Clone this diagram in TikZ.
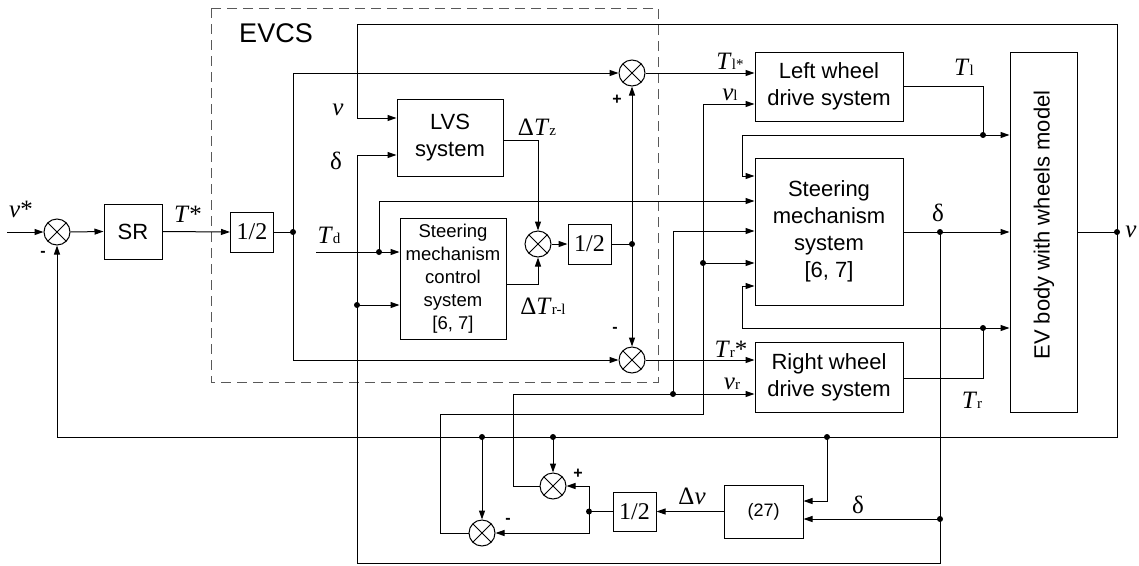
\documentclass[tikz,border=0pt]{standalone}
\usepackage{fontspec}
\setmainfont{Liberation Serif}
\setsansfont{Liberation Sans}
\usetikzlibrary{arrows.meta,calc}
\newcommand{\sbs}[1]{{\fontsize{15}{15}\selectfont #1}}
\tikzset{
  ln/.style={line width=1pt, draw=black},
  arr/.style={ln, -{Triangle[length=9pt,width=6pt]}},
  blk/.style={draw, line width=1pt, rectangle, inner sep=0pt, align=center, font=\sffamily\fontsize{22}{27}\selectfont},
  half/.style={draw, line width=1pt, rectangle, inner sep=0pt, minimum width=43pt, minimum height=40pt, font=\rmfamily\fontsize{24}{24}\selectfont},
  sumnode/.style={draw, circle, line width=1pt, minimum size=26pt, inner sep=0pt,
    path picture={\draw[line width=1pt] (path picture bounding box.north west) -- (path picture bounding box.south east)
      (path picture bounding box.north east) -- (path picture bounding box.south west);}},
  dot/.style={circle, fill, inner sep=0pt, minimum size=6pt},
  lab/.style={inner sep=0pt, font=\rmfamily\fontsize{25}{25}\selectfont},
  sg/.style={inner sep=0pt, font=\sffamily\bfseries\fontsize{16}{16}\selectfont},
}
\begin{document}
\begin{tikzpicture}[x=1pt,y=-1pt]
\useasboundingbox (0,0) rectangle (1139,565);
% EVCS dashed frame
\draw[line width=1pt, draw=black!65, dash pattern=on 10pt off 6pt] (211,8) rectangle (658,382);
\node[font=\sffamily\fontsize{27}{27}\selectfont, inner sep=0pt] (evcs) at (276,33) {EVCS};

% blocks
\node[sumnode] (s1) at (57,232) {};
\node[blk, minimum width=58pt, minimum height=55pt] (SR) at (133,231.5) {SR};
\node[half] (H1) at (252,232) {1/2};
\node[blk, minimum width=106pt, minimum height=77pt] (LVS) at (450,137.5) {LVS\\system};
\node[blk, font=\sffamily\fontsize{18.5}{23}\selectfont, minimum width=106pt, minimum height=121pt] (SMCS) at (453,278.5) {Steering\\mechanism\\control\\system\\{[6, 7]}};
\node[sumnode] (sM) at (538,244) {};
\node[half] (H2) at (589.5,244) {1/2};
\node[sumnode] (sT) at (632,73) {};
\node[sumnode] (sB) at (632,360) {};
\node[blk, minimum width=148pt, minimum height=69pt] (LW) at (829,86.5) {Left wheel\\drive system};
\node[blk, minimum width=148pt, minimum height=147pt] (SMS) at (829,231.5) {Steering\\mechanism\\system\\{[6, 7]}};
\node[blk, minimum width=148pt, minimum height=70pt] (RW) at (829,377) {Right wheel\\drive system};
\node[blk, minimum width=67pt, minimum height=360pt] (EV) at (1043.5,232) {};
\node[rotate=90, inner sep=0pt, font=\sffamily\fontsize{22}{27}\selectfont] (EVt) at (1044,225) {EV body with wheels model};
\node[blk, font=\sffamily\fontsize{18}{22}\selectfont, minimum width=79pt, minimum height=53pt] (B27) at (763.5,511.5) {(27)};
\node[half, minimum height=39pt] (H3) at (634.5,511.5) {1/2};
\node[sumnode] (sU) at (553,486) {};
\node[sumnode] (sL) at (482,533) {};

% coordinates
\coordinate (vin) at (7,232);
\coordinate (j1) at (293,232);
\coordinate (tdin) at (316,252);
\coordinate (jtd) at (379,252);
\coordinate (jd3) at (357,305);
\coordinate (j2) at (632,244);
\coordinate (jTl) at (983,135);
\coordinate (jTr) at (983,328);
\coordinate (jd) at (940,232);
\coordinate (jd2) at (940,519);
\coordinate (jv) at (1117,232);
\coordinate (jf1) at (482,437);
\coordinate (jf2) at (553,437);
\coordinate (jf3) at (827,437);
\coordinate (jh) at (589,511.5);
\coordinate (jvr) at (673,394);
\coordinate (jvl) at (703,263);
\coordinate (Y86) at (0,86);
\coordinate (Y104) at (0,104);
\coordinate (Y118) at (0,118);
\coordinate (Y140) at (0,140);
\coordinate (Y155) at (0,155);
\coordinate (Y176) at (0,176);
\coordinate (Y201) at (0,201);
\coordinate (Y231) at (0,231);
\coordinate (Y284) at (0,284);
\coordinate (Y286) at (0,286);
\coordinate (Y378) at (0,378);
\coordinate (Y501) at (0,501);

% connectors
\draw[arr] (vin) -- (s1.west);
\draw[arr] (s1.east) -- (SR.west);
\draw[arr] (SR.east) -- (H1.west);
\draw[ln] (H1.east) -- (j1);
\draw[arr] (j1) |- (sT.west);
\draw[arr] (j1) |- (sB.west);
\draw[arr] (tdin) -- (SMCS.west |- tdin);
\draw[arr] (jtd) |- (SMS.west |- Y201);
\draw[arr] (LVS.east |- Y140) -| (sM.north);
\draw[arr] (SMCS.east |- Y284) -| (sM.south);
\draw[arr] (sM.east) -- (H2.west);
\draw[ln] (H2.east) -- (j2);
\draw[arr] (j2) -- (sT.south);
\draw[arr] (j2) -- (sB.north);
\draw[arr] (sT.east) -- (LW.west |- sT);
\draw[arr] (sB.east) -- (RW.west |- sB);
\draw[ln] (LW.east |- Y86) -| (jTl);
\draw[arr] (jTl) -- (EV.west |- jTl);
\draw[arr] (jTl) -- (742,135) |- (SMS.west |- Y176);
\draw[ln] (RW.east |- Y378) -| (jTr);
\draw[arr] (jTr) -- (EV.west |- jTr);
\draw[arr] (jTr) -- (742,328) |- (SMS.west |- Y286);
\draw[arr] (SMS.east |- jd) -- (EV.west |- jd);
\draw[arr] (jd) |- (357,563) |- (LVS.west |- Y155);
\draw[arr] (jd2) -- (B27.east |- jd2);
\draw[arr] (jd3) -- (SMCS.west |- jd3);
\draw[ln] (EV.east |- jv) -- (jv);
\draw[arr] (jv) |- (357,24) |- (LVS.west |- Y118);
\draw[arr] (jv) |- (57,437) -- (s1.south);
\draw[arr] (jf3) |- (B27.east |- Y501);
\draw[arr] (B27.west |- H3) -- (H3.east);
\draw[ln] (H3.west) -- (jh);
\draw[arr] (jh) |- (sU.east);
\draw[arr] (jh) |- (sL.east);
\draw[arr] (jf1) -- (sL.north);
\draw[arr] (jf2) -- (sU.north);
\draw[arr] (sU.west) -| (513,394) -- (RW.west |- jvr);
\draw[arr] (jvr) |- (SMS.west |- Y231);
\draw[arr] (sL.west) -| (440,414) -| (703,104) -- (LW.west |- Y104);
\draw[arr] (jvl) -- (SMS.west |- jvl);

% junction dots
\foreach \p in {j1,jtd,jd3,j2,jTl,jTr,jd,jd2,jv,jf1,jf2,jf3,jh,jvr,jvl}
  \node[dot] at (\p) {};

% labels
\node[lab] (lvs) at (21,209) {\textit{v}*};
\node[sg] (m1) at (43,254) {-};
\node[lab] (lts) at (188,214) {\textit{T}*};
\node[lab] (lv1) at (338,110) {\textit{v}};
\node[lab] (ld1) at (336,161) {δ};
\node[lab] (ltd) at (329,235) {\textit{T}\sbs{d}};
\node[lab] (ltz) at (537,127) {Δ\textit{T}\sbs{z}};
\node[lab] (ltrl) at (543,306) {Δ\textit{T}\sbs{r-l}};
\node[sg] (p1) at (617,100) {+};
\node[sg] (m2) at (615,330) {-};
\node[lab] (ltls) at (730,61) {\textit{T}\sbs{l*}};
\node[lab] (lvl) at (730,95) {\textit{v}\sbs{l}};
\node[lab] (ltl) at (964,67) {\textit{T}\sbs{l}};
\node[lab] (ld2) at (938,213) {δ};
\node[lab] (ltrs) at (731,349) {\textit{T}\sbs{r}*};
\node[lab] (lvr) at (732,384) {\textit{v}\sbs{r}};
\node[lab] (ltr) at (972,400) {\textit{T}\sbs{r}};
\node[lab] (lv2) at (1131,232) {\textit{v}};
\node[lab] (ldv) at (692,496) {Δ\textit{v}};
\node[lab] (ld3) at (858,505) {δ};
\node[sg] (p2) at (578,474) {+};
\node[sg] (m3) at (508,521) {-};
\end{tikzpicture}
\end{document}
